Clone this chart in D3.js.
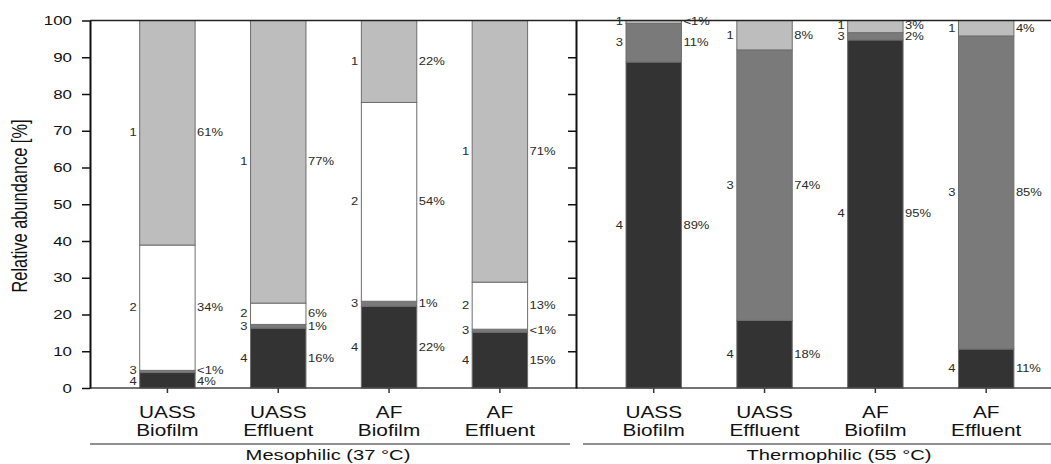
<!DOCTYPE html>
<html>
<head>
<meta charset="utf-8">
<script src="https://cdn.jsdelivr.net/npm/d3@7"></script>
<style>
  html, body { margin: 0; padding: 0; background: #fff; }
  svg { display: block; font-family: Arial, "Liberation Sans", Helvetica, sans-serif; }
</style>
</head>
<body>
<svg id="chart" width="1051" height="464"></svg>
<script>
// Reactor / sample categories (two-line labels)
const reactors = ["UASS", "UASS", "AF", "AF"];
const fractions = ["Biofilm", "Effluent", "Biofilm", "Effluent"];
const groups = ["Mesophilic  (37 °C)", "Thermophilic  (55 °C)"];
const yTicks = [0, 10, 20, 30, 40, 50, 60, 70, 80, 90, 100];

// Relative abundance [%] of each cluster, stacked from 4 (bottom) to 1 (top)
const segmentIds = ["4", "3", "2", "1"];
const mesoSeg4 = [4.2, 16.3, 22.2, 15.2];
const mesoSeg3 = [0.6, 1.0, 1.4, 0.8];
const mesoSeg2 = [34.1, 5.8, 54.1, 12.8];
const mesoSeg1 = [61.1, 76.9, 22.3, 71.2];
const thermoSeg4 = [88.7, 18.4, 94.7, 10.6];
const thermoSeg3 = [10.5, 73.6, 2.0, 85.2];
const thermoSeg2 = [0, 0, 0, 0];
const thermoSeg1 = [0.8, 8.0, 3.3, 4.2];

const segmentColors = { "1": "#bdbdbd", "2": "#ffffff", "3": "#7a7a7a", "4": "#333333" };
const SX = 1.3; // horizontal text stretch
const LABEL_GAP = 11; // minimum vertical distance between labels of one bar

const svg = d3.select("#chart");

const plotLeft = 90, plotBottom = 388, plotTop = 20.5, divider = 576, rightEdge = 1051;
const y = d3.scaleLinear().domain([0, 100]).range([plotBottom, plotTop]);

function stretchedText(sel, x, yy, str, size, anchor, fill) {
  return sel.append("text")
    .attr("transform", `translate(${x},${yy}) scale(${SX},1)`)
    .attr("text-anchor", anchor)
    .attr("font-size", size)
    .attr("fill", fill || "#111")
    .text(str);
}

// push label centres apart (bottom-up order) so neighbours keep LABEL_GAP
function spread(items) {
  for (let iter = 0; iter < 20; iter++) {
    let moved = false;
    for (let k = 1; k < items.length; k++) {
      const lo = items[k - 1], hi = items[k];
      const gap = lo.cy - hi.cy;
      if (gap < LABEL_GAP) {
        const shift = (LABEL_GAP - gap) / 2;
        lo.cy += shift; hi.cy -= shift; moved = true;
      }
    }
    if (!moved) break;
  }
  return items;
}

const panels = [
  { name: groups[0], seg: [mesoSeg4, mesoSeg3, mesoSeg2, mesoSeg1], range: [112, 555.3], line: [90, 570] },
  { name: groups[1], seg: [thermoSeg4, thermoSeg3, thermoSeg2, thermoSeg1], range: [598.3, 1041.6], line: [583, 1099] }
];

const idx = d3.range(reactors.length);

panels.forEach(p => {
  const x = d3.scaleBand().domain(idx).range(p.range).paddingInner(0.5).paddingOuter(0.25);
  const rows = idx.map(i => {
    const r = { i };
    segmentIds.forEach((id, k) => { r[id] = p.seg[k][i]; });
    return r;
  });
  const stacked = d3.stack().keys(segmentIds)(rows);

  const g = svg.append("g");
  const labelsByBar = idx.map(() => []);
  stacked.forEach(layer => {
    const id = layer.key;
    const present = layer.filter(d => d[1] - d[0] > 0);
    g.selectAll(null).data(present).enter()
      .append("rect")
      .attr("x", d => x(d.data.i))
      .attr("width", x.bandwidth())
      .attr("y", d => y(d[1]))
      .attr("height", d => y(d[0]) - y(d[1]))
      .attr("fill", segmentColors[id])
      .attr("stroke", "#6e6e6e")
      .attr("stroke-width", 1);
    present.forEach(d => {
      const v = d[1] - d[0];
      labelsByBar[d.data.i].push({
        id, i: d.data.i,
        cy: (y(d[0]) + y(d[1])) / 2,
        text: v < 1 ? "<1%" : Math.round(v) + "%"
      });
    });
  });

  labelsByBar.forEach(items => {
    spread(items).forEach(l => {
      stretchedText(g, x(l.i) - 3, l.cy + 3.5, l.id, 10, "end", "#2a2a2a");
      stretchedText(g, x(l.i) + x.bandwidth() + 2, l.cy + 3.5, l.text, 10, "start", "#2a2a2a");
    });
  });

  // bottom ticks at bar centres
  const ax = svg.append("g").attr("transform", `translate(0,${plotBottom})`)
    .call(d3.axisBottom(x).tickSize(5).tickFormat(""));
  ax.select(".domain").remove();
  ax.selectAll("line").attr("stroke", "#333").attr("stroke-width", 1.5);

  // category labels
  idx.forEach(i => {
    const cx = x(i) + x.bandwidth() / 2;
    stretchedText(svg, cx, 418, reactors[i], 16, "middle");
    stretchedText(svg, cx, 436, fractions[i], 16, "middle");
  });

  // group line and label
  svg.append("line")
    .attr("x1", p.line[0]).attr("x2", p.line[1])
    .attr("y1", 444).attr("y2", 444)
    .attr("stroke", "#6a6a6a").attr("stroke-width", 1.5);
  stretchedText(svg, (p.line[0] + p.line[1]) / 2 - 2, 460, p.name, 15.5, "middle");
});

// frame: top line and bottom line
svg.append("line").attr("x1", plotLeft).attr("x2", rightEdge)
  .attr("y1", plotTop).attr("y2", plotTop).attr("stroke", "#222").attr("stroke-width", 1.5);
svg.append("line").attr("x1", plotLeft).attr("x2", rightEdge)
  .attr("y1", plotBottom).attr("y2", plotBottom).attr("stroke", "#444").attr("stroke-width", 1.5);

// left y axis
const yAxis = svg.append("g").attr("transform", `translate(${plotLeft},0)`)
  .call(d3.axisLeft(y).tickValues(yTicks).tickSize(8).tickSizeOuter(0));
yAxis.select(".domain").attr("stroke", "#111").attr("stroke-width", 2);
yAxis.selectAll("line").attr("stroke", "#111").attr("stroke-width", 1.5);
yAxis.selectAll("text")
  .attr("x", -18 / SX)
  .attr("transform", `scale(${SX},1)`)
  .attr("font-size", 13)
  .attr("font-family", "Arial, 'Liberation Sans', sans-serif")
  .attr("fill", "#111");

// divider between the two temperature panels
const divAxis = svg.append("g").attr("transform", `translate(${divider},0)`)
  .call(d3.axisLeft(y).tickValues(yTicks.slice(1, -1)).tickSize(8).tickSizeOuter(0).tickFormat(""));
divAxis.select(".domain").attr("stroke", "#111").attr("stroke-width", 2);
divAxis.selectAll("line").attr("stroke", "#111").attr("stroke-width", 1.5);

// y axis title
svg.append("text")
  .attr("transform", `translate(27,206) rotate(-90) scale(1,${SX})`)
  .attr("text-anchor", "middle")
  .attr("font-size", 16.4)
  .attr("fill", "#111")
  .text("Relative abundance [%]");
</script>
</body>
</html>
